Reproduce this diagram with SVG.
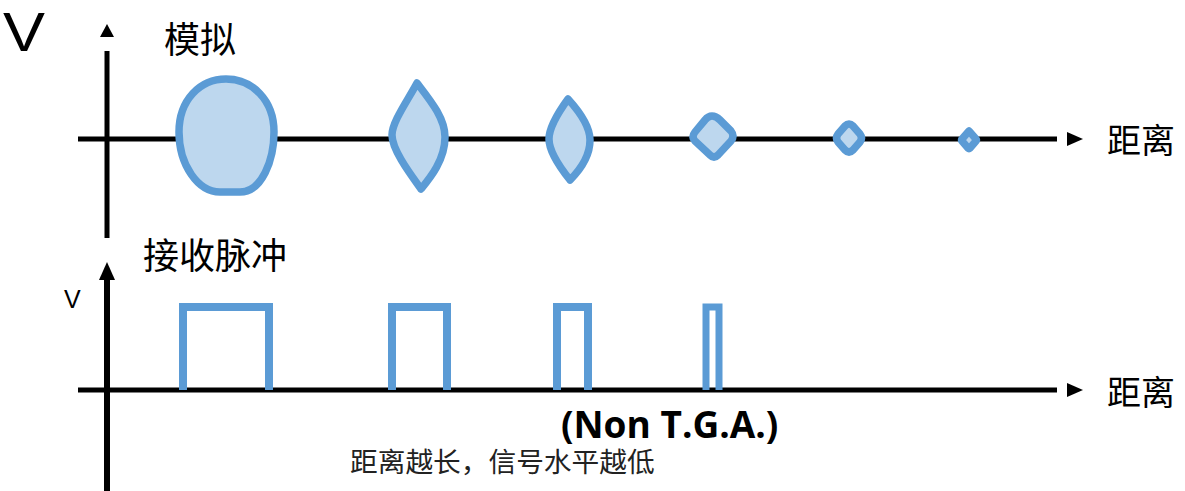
<svg xmlns="http://www.w3.org/2000/svg" width="1185" height="491" viewBox="0 0 1185 491">
  <style>
    .axis { stroke: #000; stroke-width: 5; fill: none; }
    .head { fill: #000; }
    .blob { fill: #bdd7ee; stroke: #5b9bd5; stroke-width: 7.5; stroke-linejoin: round; }
    .pulse { fill: none; stroke: #5b9bd5; stroke-width: 8; stroke-linejoin: miter; }
    .cjk { font-family: "Liberation Serif", "Noto Sans CJK SC", serif; fill: #000; }
    .lat { font-family: "Liberation Sans", "Noto Sans", sans-serif; fill: #000; }
  </style>
  <rect width="1185" height="491" fill="#fff"/>

  <!-- axes -->
  <g id="connectors">
    <!-- analog plot axes -->
    <line class="axis" x1="107" y1="51" x2="107" y2="238"/>
    <polygon class="head" points="107,24 100,37 114,37"/>
    <line class="axis" x1="78" y1="139" x2="1057" y2="139"/>
    <polygon class="head" points="1083,139 1067,132 1067,146"/>
    <!-- pulse plot axes -->
    <line class="axis" x1="107" y1="276" x2="107" y2="491" style="stroke-width:6"/>
    <polygon class="head" points="107,262 99,280 115,280"/>
    <line class="axis" x1="78" y1="390" x2="1057" y2="390"/>
    <polygon class="head" points="1083,390 1067,383 1067,397"/>
  </g>

  <!-- analog signal, shrinking with distance -->
  <g id="analog">
    <path class="blob" d="M226 79 C252 79 274 100 274 132 C274 160 262 192 240 192 L220 192 C198 192 179 165 179 132 C179 100 200 79 226 79 Z"/>
    <path class="blob" d="M417 83 C430 100 445 118 445 137 C445 160 430 178 421 189 C411 175 392 150 392 135 C392 122 408 100 417 83 Z"/>
    <path class="blob" d="M568 99 C578 110 590 125 590 140 C590 158 578 172 570 180 C562 170 549 152 549 139 C549 126 560 110 568 99 Z"/>
    <path class="blob" d="M712 116 Q716 116 720 120 L731 131 Q735 136 731 141 L718 155 Q714 159 710 155 L695 141 Q691 137 695 132 L705 120 Q708 116 712 116 Z"/>
    <path class="blob" d="M849 124 Q851 124 853 126 L860 134 Q863 138 860 142 L853 150 Q849 154 845 150 L838 142 Q835 138 838 134 L845 126 Q847 124 849 124 Z"/>
    <path class="blob" d="M969 131 L976 139 Q977 140 976 141 L970 148 Q969 149 968 148 L962 141 Q961 140 962 139 Z"/>
  </g>

  <!-- received pulses, narrowing with distance -->
  <g id="pulses">
    <path class="pulse" d="M183 390 V307 H269 V390"/>
    <path class="pulse" d="M392 390 V307 H447 V390"/>
    <path class="pulse" d="M557 390 V307 H588 V390"/>
    <path class="pulse" d="M706 390 V307 H719 V390" style="stroke-width:7"/>
  </g>

  <!-- labels -->
  <g id="labels">
    <text class="lat" x="3" y="51" font-size="56" textLength="42" lengthAdjust="spacingAndGlyphs">V</text>
    <text class="cjk" x="164" y="53" font-size="36">模拟</text>
    <text class="cjk" x="1107" y="153" font-size="34">距离</text>
    <text class="cjk" x="143" y="269" font-size="36">接收脉冲</text>
    <text class="lat" x="64" y="308" font-size="25">V</text>
    <text class="cjk" x="1107" y="405" font-size="34">距离</text>
    <text x="561" y="438" font-family="'Open Sans', 'Liberation Sans', sans-serif" font-weight="bold" font-size="37" fill="#000">(Non T.G.A.)</text>
    <text x="350" y="472" font-family="'Noto Sans CJK SC', sans-serif" font-size="27.7" fill="#222">距离越长，信号水平越低</text>
  </g>
</svg>
